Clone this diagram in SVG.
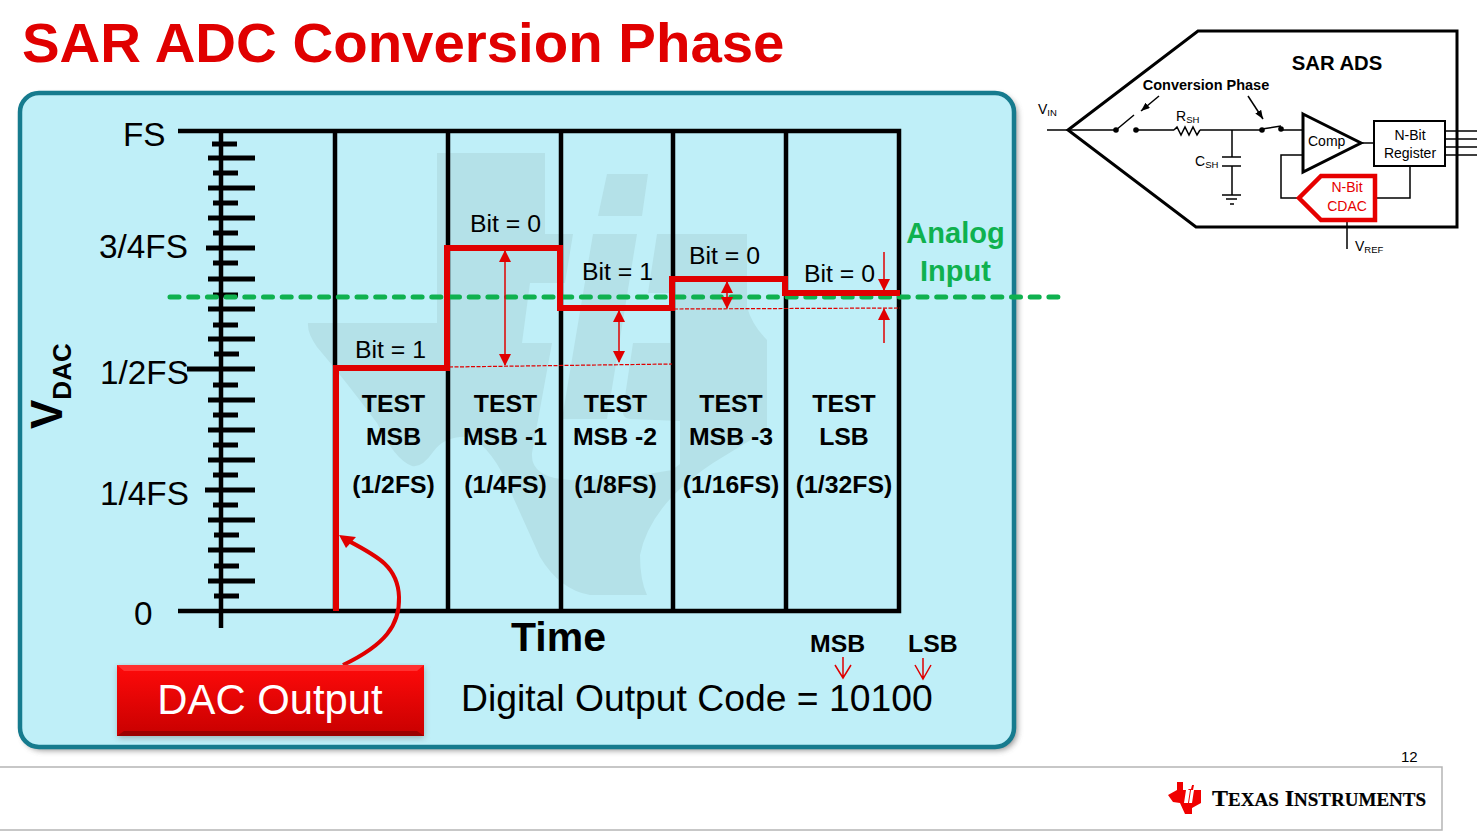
<svg xmlns="http://www.w3.org/2000/svg" width="1481" height="833" viewBox="0 0 1481 833">
<defs>
<linearGradient id="btn" x1="0" y1="0" x2="0" y2="1"><stop offset="0" stop-color="#ff0a0a"/><stop offset="1" stop-color="#c80000"/></linearGradient>
<filter id="sh" x="-5%" y="-5%" width="112%" height="112%"><feGaussianBlur stdDeviation="3"/></filter>
<marker id="ah" viewBox="0 0 12 12" refX="11" refY="6" markerWidth="12" markerHeight="12" markerUnits="userSpaceOnUse" orient="auto-start-reverse"><path d="M0 0L12 6L0 12Z" fill="#e00000"/></marker>
<marker id="ak" viewBox="0 0 10 8" refX="10" refY="4" markerWidth="9" markerHeight="7" markerUnits="userSpaceOnUse" orient="auto"><path d="M0 0L10 4L0 8Z" fill="#000"/></marker>
</defs>
<style>
text{font-family:"Liberation Sans",Arial,sans-serif;fill:#000}
.b{font-weight:bold}
.ax{stroke:#000;stroke-width:4.5;fill:none}
.tk{stroke:#000;stroke-width:5;fill:none}
.rd{stroke:#e00000;stroke-width:6;fill:none}
.ln{stroke:#e00000;stroke-width:1.5;fill:none}
.ds{stroke:#e00000;stroke-width:1.2;stroke-dasharray:4 1.5;fill:none}
.lab{font-size:33.300px}
.bit{font-size:24.800px}
.tst{font-size:24.800px;font-weight:bold;text-anchor:middle}
.k{stroke:#000;stroke-width:1.5;fill:none}
.K{stroke:#000;stroke-width:3;fill:none}
.s{font-size:14px}
.sub{font-size:9.500px}
</style>

<text id="title" x="22" y="62" font-size="56.400" class="b" style="fill:#e00000">SAR ADC Conversion Phase</text>

<g id="panel">
<rect x="23" y="96" width="994" height="654" rx="19" fill="#555" opacity=".7" filter="url(#sh)"/>
<rect x="20" y="93" width="994" height="654" rx="19" fill="#bfeff8" stroke="#167b8e" stroke-width="4.500"/>
</g>

<g id="watermark">
<path fill="#b4e1e8" d="M437 153H545V234H747V307Q752 325 767 340V430L713 463Q650 505 640 555Q640 580 647 595H590Q560 590 540 557L513 497Q495 450 470 437Q445 435 433 452Q422 468 412 466Q395 460 377 423Q345 380 317 347Q307 333 308 323H437Z"/>
<path fill="#bfeff8" d="M573 234H657L648 293H670V343H633L623 410Q622 418 630 419L680 421V464L672 470Q620 480 570 480Q530 478 532 453L552 343H522L530 283H565Z"/>
<path fill="#b4e1e8" d="M607 174H648L642 216H598ZM593 234H637L607 419H562Z"/>
</g>

<g id="axis">
<path class="ax" d="M178 131H899V611H178M335 131V611M448 131V611M561 131V611M673 131V611M786 131V611"/>
<path class="ax" d="M221 131V628"/>
<path class="tk" d="M212 144H237M208 158H255M213 173H238M208 188H255M213 203H238M208 218H255M213 233H238M206 248H255M213 263H238M208 279H255M213 295H238M208 309H255M213 325H238M208 339H255M214 354H239M187 369H255M213 385H238M208 400H255M213 415H238M208 430H255M213 445H238M208 460H255M213 475H238M205 490H255M213 505H238M208 520H255M214 535H239M208 550H255M214 566H239M208 581H255M214 596H239"/>
</g>

<g id="axis-labels">
<text class="lab" x="123" y="146">FS</text>
<text class="lab" x="99" y="258">3/4FS</text>
<text class="lab" x="100" y="384">1/2FS</text>
<text class="lab" x="100" y="505">1/4FS</text>
<text class="lab" x="134" y="625">0</text>
<text class="b" transform="translate(62 429) rotate(-90)" font-size="44">V<tspan font-size="26" dy="9">DAC</tspan></text>
<text class="b" x="511" y="651" font-size="41">Time</text>
</g>

<g id="analog-input">
<path d="M170 297H1060" stroke="#0fb14f" stroke-width="5" stroke-dasharray="9 9.700" stroke-linecap="round" fill="none"/>
<text class="b" x="955.500" y="243" font-size="29" text-anchor="middle" style="fill:#0fb14f">Analog</text>
<text class="b" x="955.500" y="281" font-size="29" text-anchor="middle" style="fill:#0fb14f">Input</text>
</g>

<g id="connectors">
<path class="rd" d="M336 611V368H447V248H560V308H672V279H785V293H900"/>
<path class="ds" d="M449 367L672 364M674 309L900 308"/>
<path class="ln" marker-start="url(#ah)" marker-end="url(#ah)" d="M505 251V365"/>
<path class="ln" marker-start="url(#ah)" marker-end="url(#ah)" d="M619 311V362"/>
<path class="ln" marker-start="url(#ah)" marker-end="url(#ah)" d="M727 282V308"/>
<path class="ln" marker-end="url(#ah)" d="M884 252V290"/>
<path class="ln" marker-end="url(#ah)" d="M884 343V309"/>
<path d="M343 665C385 645 400 625 399 597C398 565 375 555 343 538" stroke="#e00000" stroke-width="4" fill="none"/>
<path d="M339 535L356 537L346 548Z" fill="#e00000"/>
<path d="M843 657V678M835 665L843 678L851 665M923 658V679M915 665L923 679L931 665" stroke="#e00000" stroke-width="1.500" fill="none"/>
</g>

<g id="bits">
<text class="bit" x="355" y="358">Bit = 1</text>
<text class="bit" x="470" y="232">Bit = 0</text>
<text class="bit" x="582" y="280">Bit = 1</text>
<text class="bit" x="689" y="264">Bit = 0</text>
<text class="bit" x="804" y="282">Bit = 0</text>
</g>

<g id="tests">
<text class="tst" x="393.500" y="412">TEST</text><text class="tst" x="393.500" y="445">MSB</text><text class="tst" x="393.500" y="493">(1/2FS)</text>
<text class="tst" x="505.500" y="412">TEST</text><text class="tst" x="505" y="445">MSB -1</text><text class="tst" x="505.500" y="493">(1/4FS)</text>
<text class="tst" x="615.500" y="412">TEST</text><text class="tst" x="615" y="445">MSB -2</text><text class="tst" x="615.500" y="493">(1/8FS)</text>
<text class="tst" x="731" y="412">TEST</text><text class="tst" x="731" y="445">MSB -3</text><text class="tst" x="731" y="493">(1/16FS)</text>
<text class="tst" x="844" y="412">TEST</text><text class="tst" x="844" y="445">LSB</text><text class="tst" x="844" y="493">(1/32FS)</text>
</g>

<g id="dac-output">
<rect x="118" y="667" width="306" height="71" fill="#777" opacity=".5" filter="url(#sh)"/>
<rect x="117" y="665" width="307" height="71" fill="url(#btn)"/>
<path d="M117 665H424L417 671H124Z" fill="#ff3030"/>
<path d="M117 736H424L417 731H124Z" fill="#9c0000"/>
<text x="270" y="714" font-size="41.800" text-anchor="middle" style="fill:#fff">DAC Output</text>
</g>

<g id="code">
<text x="461" y="711" font-size="37.300">Digital Output Code = 10100</text>
<text class="b" x="810" y="652" font-size="24.800">MSB</text>
<text class="b" x="908" y="652" font-size="24.800">LSB</text>
</g>

<g id="sar-block">
<path class="K" d="M1068 130L1198 31H1457V227H1196Z" stroke-linejoin="miter"/>
<text class="b" x="1337" y="70" font-size="20.300" text-anchor="middle">SAR ADS</text>
<text class="b" x="1206" y="90" font-size="14.500" text-anchor="middle">Conversion Phase</text>
<path d="M1047 130H1068M1116 130H1068M1136 130H1174M1200 130H1262M1282 130H1303" class="k"/>
<text class="s" x="1038" y="114">V<tspan class="sub" dy="2">IN</tspan></text>
<path class="k" d="M1116 130L1134 115M1262 129L1281 126"/>
<circle cx="1116" cy="130" r="2.800"/><circle cx="1136" cy="130" r="2.800"/><circle cx="1262" cy="130" r="2.800"/><circle cx="1281" cy="129" r="2.800"/>
<path class="k" d="M1159 96L1141 111" marker-end="url(#ak)"/>
<path class="k" d="M1248 96L1263 119" marker-end="url(#ak)"/>
<path class="k" d="M1174 130L1177 127L1181 135L1185 127L1189 135L1193 127L1197 135L1200 130"/>
<text class="s" x="1176" y="121">R<tspan class="sub" dy="2">SH</tspan></text>
<path class="k" d="M1232 130V157M1222 157H1241M1222 166H1241M1232 166V195"/>
<path d="M1222 195H1241M1226 199H1237M1230 204H1234" class="k"/>
<text class="s" x="1195" y="166">C<tspan class="sub" dy="2">SH</tspan></text>
<path class="K" d="M1303 114L1361 143L1303 172Z" stroke-width="2"/>
<text class="s" x="1308" y="146">Comp</text>
<path class="k" d="M1361 143H1374M1303 155H1281V198H1298M1375 198H1410V167M1347 222V249M1445 131H1477M1445 139H1477M1445 147H1477M1445 155H1477"/>
<rect x="1374" y="121" width="71" height="45" fill="#fff" stroke="#000" stroke-width="2"/>
<text class="s" x="1410" y="140" text-anchor="middle">N-Bit</text>
<text class="s" x="1410" y="158" text-anchor="middle">Register</text>
<path d="M1321 176H1375V220H1321L1299 198Z" fill="#fff" stroke="#e60000" stroke-width="4.500"/>
<text class="s" x="1347" y="192" text-anchor="middle" style="fill:#e60000">N-Bit</text>
<text class="s" x="1347" y="211" text-anchor="middle" style="fill:#e60000">CDAC</text>
<text class="s" x="1355" y="251">V<tspan class="sub" dy="2">REF</tspan></text>
</g>

<g id="footer">
<text x="1401" y="762" font-size="15">12</text>
<path d="M0 767H1442V830H0" fill="none" stroke="#b5b5b5" stroke-width="1.500"/>
<path d="M1177 782H1183V790H1188L1192 785H1194L1193 790H1201V803L1192 808V814H1185L1180 803L1173 802L1168 795L1177 790Z" fill="#f00000"/>
<path d="M1189 785H1192L1191 789H1188ZM1186 790H1190L1188 803H1184ZM1191 790H1194L1192 803H1189Z" fill="#fff"/>
<text x="1212" y="806" font-weight="bold" font-size="24" style="font-family:'Liberation Serif',serif" stroke="#000" stroke-width=".2">T<tspan font-size="19">EXAS</tspan> I<tspan font-size="19">NSTRUMENTS</tspan></text>
</g>
</svg>
